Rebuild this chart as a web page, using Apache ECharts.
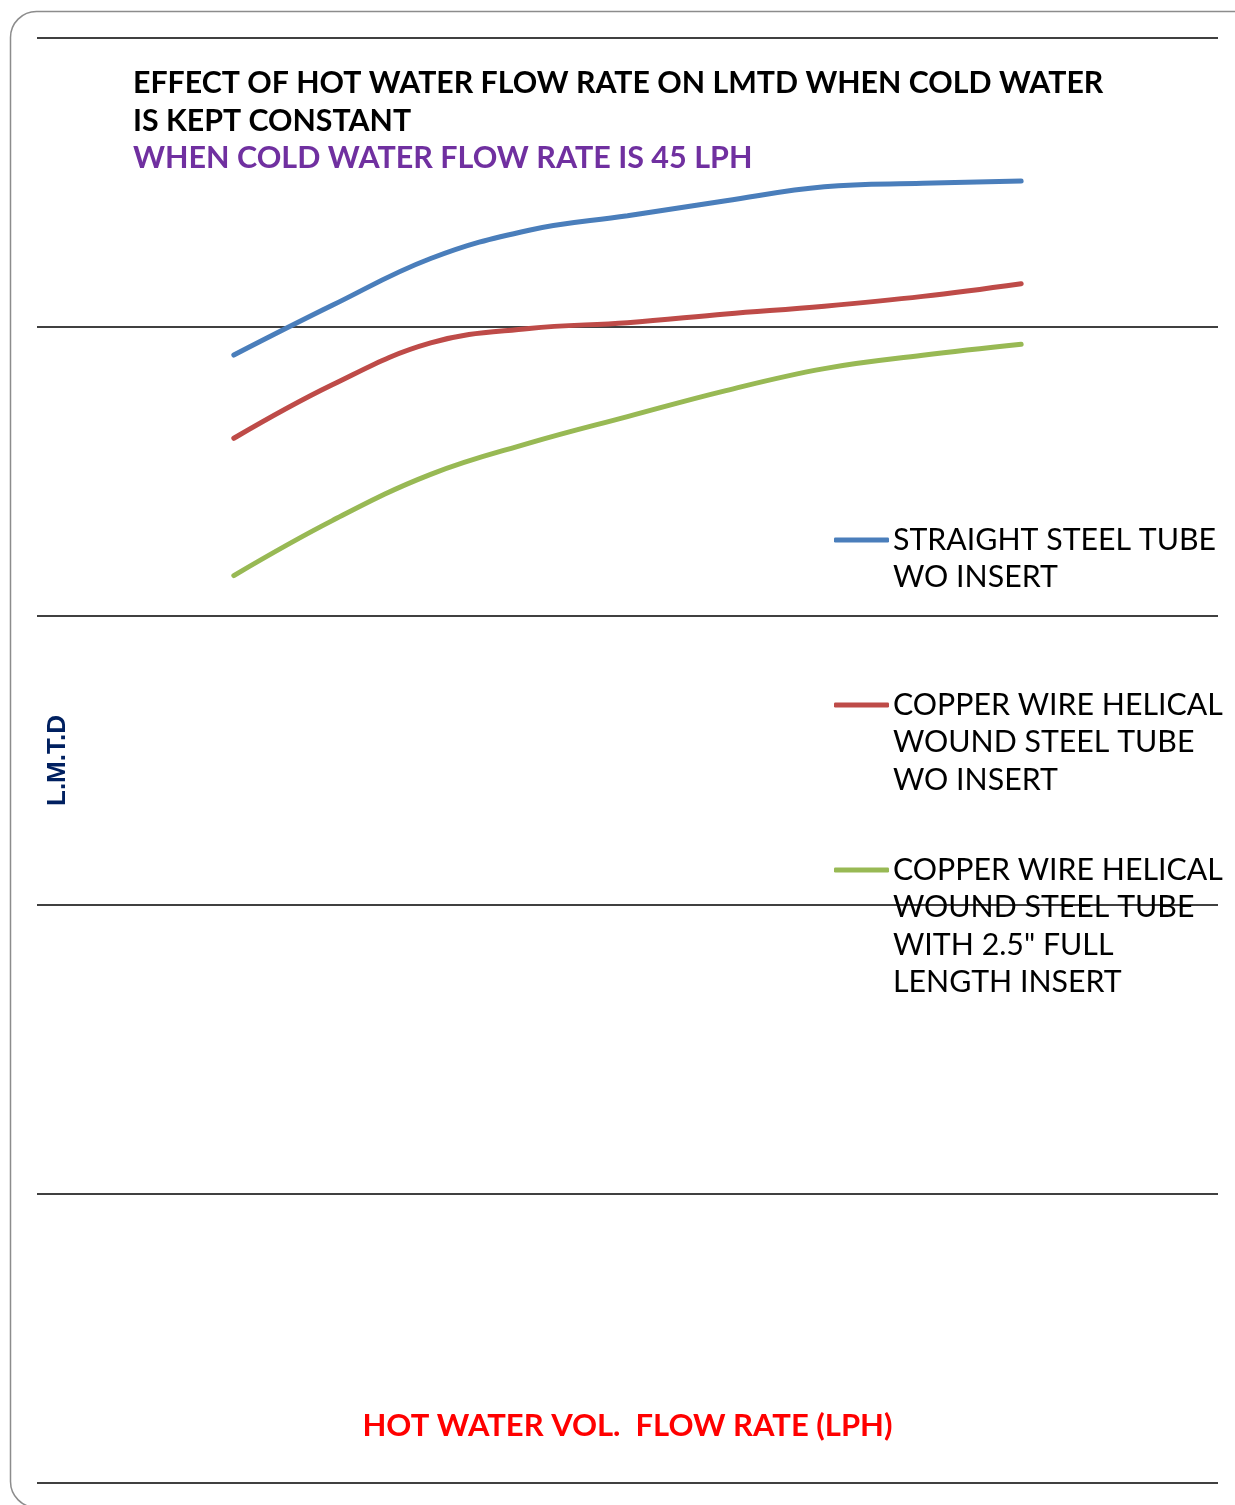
<!DOCTYPE html>
<html>
<head>
<meta charset="utf-8">
<script src="https://cdn.jsdelivr.net/npm/echarts@6/dist/echarts.min.js"></script>
<style>
html,body{margin:0;padding:0;background:#fff;}
#c{width:1235px;height:1505px;}
</style>
</head>
<body>
<div id="c"></div>
<script>
// Hot water flow rate (LPH) – positions on a hidden x-axis
const flowRates = [50, 75, 100, 125, 150, 175, 200, 225, 250];
// L.M.T.D values
const straightSteel = [39.03, 40.75, 42.37, 43.35, 43.85, 44.37, 44.85, 44.97, 45.05];
const copperWound = [36.15, 38.0, 39.45, 39.95, 40.15, 40.45, 40.72, 41.06, 41.5];
const copperWoundInsert = [31.4, 33.3, 34.9, 35.98, 36.9, 37.8, 38.56, 39.02, 39.4];

const seriesNames = [
  'STRAIGHT STEEL TUBE\nWO INSERT',
  'COPPER WIRE HELICAL\nWOUND STEEL TUBE\nWO INSERT',
  'COPPER WIRE HELICAL\nWOUND STEEL TUBE\nWITH 2.5" FULL\nLENGTH INSERT'
];
const titleText = 'EFFECT OF HOT WATER FLOW RATE ON LMTD WHEN COLD WATER\nIS KEPT CONSTANT';
const subtitleText = 'WHEN COLD WATER FLOW RATE IS 45 LPH';
const xName = 'HOT WATER VOL.  FLOW RATE (LPH)';
const yName = 'L.M.T.D';

const colors = ['#4A7EBB', '#BE4B48', '#98B954'];
const LH = 37.4;
const legendCenters = [540, 705, 870];

function pairs(vals){ return flowRates.map((x,i)=>[x, vals[i]]); }

const legends = seriesNames.map((n, i) => {
  const k = n.split('\n').length - 1;
  return {
    data: [n],
    left: 834,
    top: legendCenters[i] - (k + 0.5) * LH,
    padding: 0,
    icon: 'roundRect',
    itemWidth: 55,
    itemHeight: 5,
    itemGap: 0,
    selectedMode: false,
    textStyle: {
      fontFamily: 'Lato', fontSize: 30.3, color: '#000', lineHeight: LH, padding: [0,0,0,-1]
    },
    formatter: (name) => '\n'.repeat(k) + name
  };
});

const chart = echarts.init(document.getElementById('c'), null, {renderer: 'canvas'});
chart.setOption({
  animation: false,
  backgroundColor: '#fff',
  title: {
    text: titleText,
    subtext: subtitleText,
    left: 128,
    top: 60,
    itemGap: 0,
    textStyle: {fontFamily: 'Lato', fontWeight: 'bold', fontSize: 30.3, color: '#000', lineHeight: 37.2},
    subtextStyle: {fontFamily: 'Lato', fontWeight: 'bold', fontSize: 30.5, color: '#7030A0', lineHeight: 37.2}
  },
  legend: legends,
  grid: {left: 37, right: 17, top: 38, bottom: 22, containLabel: false},
  xAxis: {
    type: 'value', min: 0, max: 300,
    name: xName, nameLocation: 'middle', nameGap: -73,
    nameTextStyle: {fontFamily: 'Lato', fontWeight: 'bold', fontSize: 31, color: '#FF0000'},
    axisLine: {show: false}, axisTick: {show: false}, axisLabel: {show: false}, splitLine: {show: false}
  },
  yAxis: {
    type: 'value', min: 0, max: 50, interval: 10,
    name: yName, nameLocation: 'middle', nameRotate: 90, nameGap: -34,
    nameTextStyle: {fontFamily: 'Liberation Sans', fontWeight: 'bold', fontSize: 26, color: '#002060'},
    axisLine: {show: false}, axisTick: {show: false}, axisLabel: {show: false},
    splitLine: {show: true, lineStyle: {color: '#000', width: 1.5}}
  },
  graphic: [{
    type: 'rect', left: 8, top: 9, silent: true, z: -1,
    shape: {x: 0, y: 0, width: 1250, height: 1496, r: 26},
    style: {fill: 'none', stroke: '#8c8c8c', lineWidth: 1.5}
  }],
  series: [straightSteel, copperWound, copperWoundInsert].map((v, i) => ({
    name: seriesNames[i],
    type: 'line',
    data: pairs(v),
    smooth: 0.4,
    showSymbol: false,
    symbol: 'none',
    lineStyle: {color: colors[i], width: 5, cap: 'round'},
    itemStyle: {color: colors[i]},
    z: 3
  }))
});
</script>
</body>
</html>
